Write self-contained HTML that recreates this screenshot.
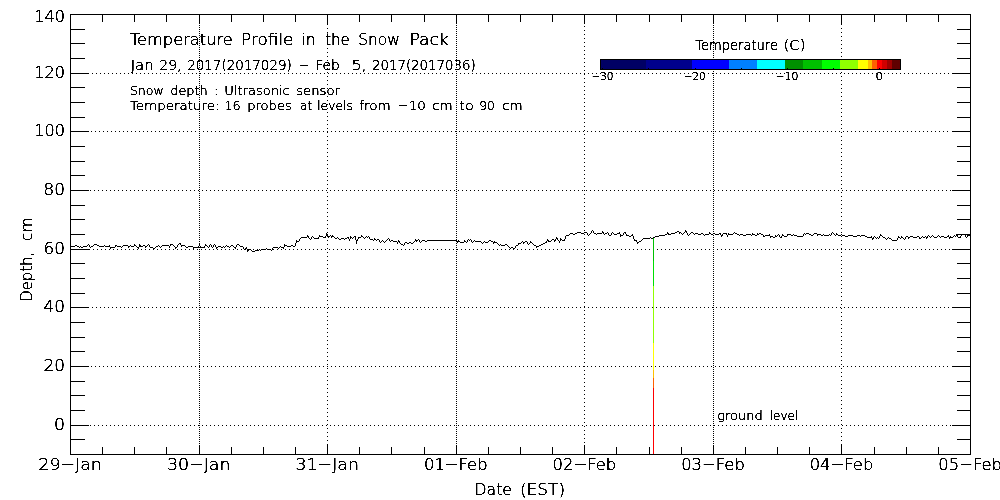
<!DOCTYPE html>
<html><head><meta charset="utf-8"><title>Temperature Profile in the Snow Pack</title>
<style>html,body{margin:0;padding:0;background:#fff;overflow:hidden}svg{display:block}
text{font-family:"DejaVu Sans Light","DejaVu Sans","Liberation Sans",sans-serif;font-weight:200;fill:#000;stroke:#000;stroke-width:0.2px}
.tx{filter:url(#crisp)}
</style></head><body>
<svg width="1000" height="500" viewBox="0 0 1000 500">
<defs><filter id="crisp" x="0" y="0" width="1000" height="500" filterUnits="userSpaceOnUse" color-interpolation-filters="sRGB"><feComponentTransfer><feFuncA type="linear" slope="5" intercept="-1.35"/></feComponentTransfer></filter></defs>
<rect x="0" y="0" width="1000" height="500" fill="#fff"/>
<g shape-rendering="crispEdges" stroke="#000" stroke-width="1" fill="none">
<line x1="90" y1="425.5" x2="951" y2="425.5" stroke-dasharray="1 3"/>
<line x1="91" y1="366.5" x2="951" y2="366.5" stroke-dasharray="1 3"/>
<line x1="92" y1="307.5" x2="951" y2="307.5" stroke-dasharray="1 3"/>
<line x1="89" y1="249.5" x2="951" y2="249.5" stroke-dasharray="1 3"/>
<line x1="90" y1="190.5" x2="951" y2="190.5" stroke-dasharray="1 3"/>
<line x1="91" y1="131.5" x2="951" y2="131.5" stroke-dasharray="1 3"/>
<line x1="92" y1="73.5" x2="951" y2="73.5" stroke-dasharray="1 3"/>
<line x1="199.5" y1="25" x2="199.5" y2="445" stroke-dasharray="1 1"/>
<line x1="327.5" y1="24" x2="327.5" y2="445" stroke-dasharray="1 3"/>
<line x1="456.5" y1="25" x2="456.5" y2="445" stroke-dasharray="1 1"/>
<line x1="584.5" y1="26" x2="584.5" y2="445" stroke-dasharray="1 3"/>
<line x1="713.5" y1="25" x2="713.5" y2="445" stroke-dasharray="1 1"/>
<line x1="841.5" y1="24" x2="841.5" y2="445" stroke-dasharray="1 3"/>
</g>
<g shape-rendering="crispEdges">
<rect x="600" y="59" width="46" height="10" fill="#000064"/>
<rect x="646" y="59" width="46" height="10" fill="#00008c"/>
<rect x="692" y="59" width="37" height="10" fill="#0000ff"/>
<rect x="729" y="59" width="28" height="10" fill="#0080ff"/>
<rect x="757" y="59" width="28" height="10" fill="#00ffff"/>
<rect x="785" y="59" width="18" height="10" fill="#009000"/>
<rect x="803" y="59" width="19" height="10" fill="#00c000"/>
<rect x="822" y="59" width="18" height="10" fill="#00ff00"/>
<rect x="840" y="59" width="18" height="10" fill="#90ff00"/>
<rect x="858" y="59" width="10" height="10" fill="#ffff00"/>
<rect x="868" y="59" width="4" height="10" fill="#ffc000"/>
<rect x="872" y="59" width="5" height="10" fill="#ff6000"/>
<rect x="877" y="59" width="5" height="10" fill="#ff0000"/>
<rect x="882" y="59" width="5" height="10" fill="#d00000"/>
<rect x="887" y="59" width="5" height="10" fill="#a00000"/>
<rect x="892" y="59" width="8" height="10" fill="#600000"/>
<rect x="600.5" y="59.5" width="300" height="10" fill="none" stroke="#000" stroke-width="1"/>
<rect x="602" y="68" width="1" height="1" fill="#000"/>
<rect x="648" y="68" width="1" height="1" fill="#000"/>
<rect x="695" y="68" width="1" height="1" fill="#000"/>
<rect x="741" y="68" width="1" height="1" fill="#000"/>
<rect x="787" y="68" width="1" height="1" fill="#000"/>
<rect x="833" y="68" width="1" height="1" fill="#000"/>
<rect x="879" y="68" width="1" height="1" fill="#000"/>
</g>
<g shape-rendering="crispEdges">
<rect x="653" y="237" width="1" height="24" fill="#00c000"/>
<rect x="653" y="261" width="1" height="25" fill="#00e000"/>
<rect x="653" y="286" width="1" height="57" fill="#90ff00"/>
<rect x="653" y="343" width="1" height="27" fill="#ffff00"/>
<rect x="653" y="370" width="1" height="8" fill="#ffc000"/>
<rect x="653" y="378" width="1" height="10" fill="#ff6000"/>
<rect x="653" y="388" width="1" height="66" fill="#ff0000"/>
</g>
<path d="M70.5 245V246M71.5 246V247M72.5 246V247M73.5 246V247M74.5 246V247M75.5 245V246M76.5 245V246M77.5 246V247M78.5 246V247M79.5 247V248M80.5 246V247M81.5 247V248M82.5 247V248M83.5 246V247M84.5 246V247M85.5 246V247M86.5 246V247M87.5 245V246M88.5 244V245M89.5 245V247M90.5 247V248M91.5 246V247M92.5 246V247M93.5 245V246M94.5 244V245M95.5 244V245M96.5 244V245M97.5 245V246M98.5 245V246M99.5 246V247M100.5 246V247M101.5 246V247M102.5 246V247M103.5 246V247M104.5 245V246M105.5 246V247M106.5 246V247M107.5 246V247M108.5 246V247M109.5 245V247M110.5 247V249M111.5 247V248M112.5 247V248M113.5 247V248M114.5 247V248M115.5 245V247M116.5 245V246M117.5 246V247M118.5 246V247M119.5 246V247M120.5 246V247M121.5 247V248M122.5 246V247M123.5 245V246M124.5 245V246M125.5 245V246M126.5 245V246M127.5 245V246M128.5 246V248M129.5 246V247M130.5 245V246M131.5 246V247M132.5 246V247M133.5 246V247M134.5 244V246M135.5 245V246M136.5 246V247M137.5 247V248M138.5 247V249M139.5 244V247M140.5 245V247M141.5 246V247M142.5 246V247M143.5 245V246M144.5 245V246M145.5 246V248M146.5 246V247M147.5 245V246M148.5 244V245M149.5 245V247M150.5 247V248M151.5 247V248M152.5 247V248M153.5 248V249M154.5 248V249M155.5 247V248M156.5 246V247M157.5 246V247M158.5 245V246M159.5 246V247M160.5 247V248M161.5 246V247M162.5 245V246M163.5 245V246M164.5 245V246M165.5 245V246M166.5 245V246M167.5 245V246M168.5 245V246M169.5 246V248M170.5 244V246M171.5 244V245M172.5 244V245M173.5 245V246M174.5 246V247M175.5 247V249M176.5 247V248M177.5 245V247M178.5 244V245M179.5 243V244M180.5 243V245M181.5 245V247M182.5 245V246M183.5 245V246M184.5 245V246M185.5 246V247M186.5 247V248M187.5 247V248M188.5 246V247M189.5 246V247M190.5 246V247M191.5 246V247M192.5 246V247M193.5 247V249M194.5 247V248M195.5 247V248M196.5 247V248M197.5 247V248M198.5 246V248M199.5 244V246M200.5 246V248M201.5 247V248M202.5 247V248M203.5 247V248M204.5 246V248M205.5 244V246M206.5 245V246M207.5 246V247M208.5 247V248M209.5 245V247M210.5 244V245M211.5 245V247M212.5 247V248M213.5 245V247M214.5 244V245M215.5 245V247M216.5 247V249M217.5 247V248M218.5 246V247M219.5 246V247M220.5 246V247M221.5 247V248M222.5 247V248M223.5 246V247M224.5 247V248M225.5 246V247M226.5 245V246M227.5 246V247M228.5 246V247M229.5 247V248M230.5 246V247M231.5 245V246M232.5 245V246M233.5 246V247M234.5 247V248M235.5 247V249M236.5 245V247M237.5 244V245M238.5 244V245M239.5 245V246M240.5 246V247M241.5 246V247M242.5 246V247M243.5 247V249M244.5 249V250M245.5 248V249M246.5 247V249M247.5 249V252M248.5 249V251M249.5 249V250M250.5 249V250M251.5 250V251M252.5 251V252M253.5 251V252M254.5 251V252M255.5 250V251M256.5 250V251M257.5 250V251M258.5 250V251M259.5 249V250M260.5 250V251M261.5 249V250M262.5 249V250M263.5 249V250M264.5 249V250M265.5 249V250M266.5 248V249M267.5 249V250M268.5 249V250M269.5 249V250M270.5 249V250M271.5 250V251M272.5 248V250M273.5 247V248M274.5 247V248M275.5 247V248M276.5 247V248M277.5 247V248M278.5 248V249M279.5 247V248M280.5 246V247M281.5 247V248M282.5 247V248M283.5 247V249M284.5 244V247M285.5 245V246M286.5 245V246M287.5 246V247M288.5 246V247M289.5 246V247M290.5 246V247M291.5 245V246M292.5 245V246M293.5 246V247M294.5 246V247M295.5 243V246M296.5 240V243M297.5 241V242M298.5 241V242M299.5 239V241M300.5 238V239M301.5 237V238M302.5 237V238M303.5 237V238M304.5 237V238M305.5 237V238M306.5 237V238M307.5 235V237M308.5 236V238M309.5 238V239M310.5 239V240M311.5 237V239M312.5 236V237M313.5 237V238M314.5 238V239M315.5 238V239M316.5 238V239M317.5 238V239M318.5 237V239M319.5 235V237M320.5 236V237M321.5 236V237M322.5 236V237M323.5 237V238M324.5 237V238M325.5 236V238M326.5 233V236M327.5 234V236M328.5 236V238M329.5 236V237M330.5 235V236M331.5 236V238M332.5 235V237M333.5 236V237M334.5 237V238M335.5 238V239M336.5 238V239M337.5 237V238M338.5 238V239M339.5 239V240M340.5 239V240M341.5 238V239M342.5 238V239M343.5 238V239M344.5 239V240M345.5 238V239M346.5 238V239M347.5 237V238M348.5 237V239M349.5 239V241M350.5 236V239M351.5 237V238M352.5 238V239M353.5 237V238M354.5 236V237M355.5 236V240M356.5 240V244M357.5 239V241M358.5 237V239M359.5 237V238M360.5 237V238M361.5 235V237M362.5 236V237M363.5 237V238M364.5 238V239M365.5 237V238M366.5 236V237M367.5 237V238M368.5 236V237M369.5 237V239M370.5 239V240M371.5 239V240M372.5 239V240M373.5 240V241M374.5 238V240M375.5 239V240M376.5 240V241M377.5 239V240M378.5 239V240M379.5 240V242M380.5 242V243M381.5 241V242M382.5 240V241M383.5 241V242M384.5 242V243M385.5 241V242M386.5 240V241M387.5 239V240M388.5 238V239M389.5 239V241M390.5 241V242M391.5 240V241M392.5 240V241M393.5 241V242M394.5 241V242M395.5 241V242M396.5 241V242M397.5 242V244M398.5 240V242M399.5 241V243M400.5 243V244M401.5 244V245M402.5 244V245M403.5 245V246M404.5 243V245M405.5 242V243M406.5 242V243M407.5 243V244M408.5 243V244M409.5 242V243M410.5 242V243M411.5 243V244M412.5 243V244M413.5 242V243M414.5 241V242M415.5 239V241M416.5 240V242M417.5 240V241M418.5 239V240M419.5 240V242M420.5 242V243M421.5 241V242M422.5 240V241M423.5 240V241M424.5 240V241M425.5 241V242M426.5 241V242M427.5 240V241M428.5 240V241M429.5 240V241M430.5 240V241M431.5 240V241M432.5 240V241M433.5 240V241M434.5 240V241M435.5 240V241M436.5 240V241M437.5 240V241M438.5 240V241M439.5 240V241M440.5 240V241M441.5 240V241M442.5 240V241M443.5 240V241M444.5 240V241M445.5 240V241M446.5 240V241M447.5 240V241M448.5 240V241M449.5 240V241M450.5 240V241M451.5 240V241M452.5 240V241M453.5 240V241M454.5 240V241M455.5 240V241M456.5 240V241M457.5 241V243M458.5 240V242M459.5 241V242M460.5 242V243M461.5 242V243M462.5 242V243M463.5 242V243M464.5 240V242M465.5 241V242M466.5 242V243M467.5 240V242M468.5 239V240M469.5 240V241M470.5 239V240M471.5 240V242M472.5 242V243M473.5 241V242M474.5 240V241M475.5 241V242M476.5 241V242M477.5 241V242M478.5 241V242M479.5 241V242M480.5 241V242M481.5 242V243M482.5 243V244M483.5 242V243M484.5 241V242M485.5 242V243M486.5 242V243M487.5 242V243M488.5 241V242M489.5 240V241M490.5 240V241M491.5 241V242M492.5 241V242M493.5 242V244M494.5 241V243M495.5 242V243M496.5 242V243M497.5 243V244M498.5 244V245M499.5 245V246M500.5 244V245M501.5 245V246M502.5 245V246M503.5 245V246M504.5 245V246M505.5 244V245M506.5 244V245M507.5 245V246M508.5 246V247M509.5 247V248M510.5 248V249M511.5 247V248M512.5 247V248M513.5 248V249M514.5 248V249M515.5 246V248M516.5 245V246M517.5 245V246M518.5 243V245M519.5 243V244M520.5 243V244M521.5 242V243M522.5 241V242M523.5 242V244M524.5 242V243M525.5 241V242M526.5 241V242M527.5 242V244M528.5 244V245M529.5 243V244M530.5 241V243M531.5 242V243M532.5 243V244M533.5 244V245M534.5 245V246M535.5 245V246M536.5 246V248M537.5 246V247M538.5 246V247M539.5 245V246M540.5 245V246M541.5 244V245M542.5 244V245M543.5 243V244M544.5 243V244M545.5 242V243M546.5 241V243M547.5 239V241M548.5 240V242M549.5 241V242M550.5 241V242M551.5 240V241M552.5 239V240M553.5 239V240M554.5 240V242M555.5 239V241M556.5 237V239M557.5 238V240M558.5 240V241M559.5 241V243M560.5 238V241M561.5 239V240M562.5 240V241M563.5 240V241M564.5 239V241M565.5 236V239M566.5 235V236M567.5 235V236M568.5 235V236M569.5 234V235M570.5 233V234M571.5 233V234M572.5 233V234M573.5 234V235M574.5 234V235M575.5 233V234M576.5 233V234M577.5 232V233M578.5 232V233M579.5 232V233M580.5 232V233M581.5 233V234M582.5 233V234M583.5 233V234M584.5 232V233M585.5 232V233M586.5 232V233M587.5 233V235M588.5 235V236M589.5 234V235M590.5 233V234M591.5 231V233M592.5 230V231M593.5 231V233M594.5 233V234M595.5 233V234M596.5 234V235M597.5 233V234M598.5 233V234M599.5 233V234M600.5 233V234M601.5 233V234M602.5 231V233M603.5 232V234M604.5 234V235M605.5 233V234M606.5 233V234M607.5 232V233M608.5 233V235M609.5 235V236M610.5 235V236M611.5 233V235M612.5 232V233M613.5 233V234M614.5 234V235M615.5 234V235M616.5 234V235M617.5 233V234M618.5 233V234M619.5 232V234M620.5 234V237M621.5 235V236M622.5 235V236M623.5 233V235M624.5 232V233M625.5 232V234M626.5 234V236M627.5 235V236M628.5 235V236M629.5 236V237M630.5 236V237M631.5 235V236M632.5 234V236M633.5 236V239M634.5 239V241M635.5 240V241M636.5 240V242M637.5 242V244M638.5 242V243M639.5 241V242M640.5 241V242M641.5 240V241M642.5 239V240M643.5 238V239M644.5 238V239M645.5 238V239M646.5 238V239M647.5 238V239M648.5 238V239M649.5 238V239M650.5 237V238M651.5 238V239M652.5 238V239M653.5 237V238M654.5 237V238M655.5 236V237M656.5 236V237M657.5 236V237M658.5 236V237M659.5 235V236M660.5 235V236M661.5 235V236M662.5 235V236M663.5 235V236M664.5 235V236M665.5 234V235M666.5 234V235M667.5 232V234M668.5 233V235M669.5 234V235M670.5 234V235M671.5 233V234M672.5 233V234M673.5 233V234M674.5 233V234M675.5 232V233M676.5 232V233M677.5 231V232M678.5 231V232M679.5 232V234M680.5 232V233M681.5 233V234M682.5 234V235M683.5 233V234M684.5 232V233M685.5 230V232M686.5 231V233M687.5 233V235M688.5 235V236M689.5 234V235M690.5 233V234M691.5 232V233M692.5 232V233M693.5 233V234M694.5 234V235M695.5 233V234M696.5 233V234M697.5 233V234M698.5 234V235M699.5 234V235M700.5 234V235M701.5 233V234M702.5 233V234M703.5 234V235M704.5 235V236M705.5 234V235M706.5 234V235M707.5 234V235M708.5 234V235M709.5 232V234M710.5 233V234M711.5 234V235M712.5 234V235M713.5 233V234M714.5 233V234M715.5 234V235M716.5 234V235M717.5 234V235M718.5 234V235M719.5 233V234M720.5 233V235M721.5 235V237M722.5 234V236M723.5 233V234M724.5 233V234M725.5 233V234M726.5 233V235M727.5 235V237M728.5 233V235M729.5 234V235M730.5 234V235M731.5 234V235M732.5 234V235M733.5 233V234M734.5 232V233M735.5 233V234M736.5 233V234M737.5 234V235M738.5 234V235M739.5 235V236M740.5 234V235M741.5 234V235M742.5 234V235M743.5 235V236M744.5 235V236M745.5 235V236M746.5 234V235M747.5 234V235M748.5 234V235M749.5 234V235M750.5 234V235M751.5 235V236M752.5 233V235M753.5 234V235M754.5 234V235M755.5 235V236M756.5 235V236M757.5 233V235M758.5 234V235M759.5 233V234M760.5 233V234M761.5 234V235M762.5 234V235M763.5 235V237M764.5 236V237M765.5 235V236M766.5 235V236M767.5 235V236M768.5 235V236M769.5 234V236M770.5 236V238M771.5 236V237M772.5 236V237M773.5 237V238M774.5 237V238M775.5 235V237M776.5 236V237M777.5 235V236M778.5 234V235M779.5 235V237M780.5 237V238M781.5 236V238M782.5 234V236M783.5 235V236M784.5 236V237M785.5 236V237M786.5 236V237M787.5 234V236M788.5 234V235M789.5 234V235M790.5 234V235M791.5 235V236M792.5 235V236M793.5 234V235M794.5 235V236M795.5 235V236M796.5 235V236M797.5 236V237M798.5 236V237M799.5 236V237M800.5 236V237M801.5 236V237M802.5 236V237M803.5 234V236M804.5 233V234M805.5 234V235M806.5 233V234M807.5 233V234M808.5 233V234M809.5 234V235M810.5 234V235M811.5 235V236M812.5 235V236M813.5 234V235M814.5 233V234M815.5 233V234M816.5 233V234M817.5 234V236M818.5 234V235M819.5 234V235M820.5 234V235M821.5 235V236M822.5 235V236M823.5 234V235M824.5 235V236M825.5 235V236M826.5 235V236M827.5 235V236M828.5 235V236M829.5 234V235M830.5 235V236M831.5 233V235M832.5 232V233M833.5 233V234M834.5 234V235M835.5 235V236M836.5 233V235M837.5 234V235M838.5 235V236M839.5 235V236M840.5 235V236M841.5 234V235M842.5 235V236M843.5 235V236M844.5 235V236M845.5 236V237M846.5 236V237M847.5 236V237M848.5 235V236M849.5 235V236M850.5 235V236M851.5 235V236M852.5 235V236M853.5 236V237M854.5 236V237M855.5 236V237M856.5 236V237M857.5 235V236M858.5 235V236M859.5 235V236M860.5 236V237M861.5 235V236M862.5 235V236M863.5 235V236M864.5 235V236M865.5 236V237M866.5 236V237M867.5 237V238M868.5 237V238M869.5 237V238M870.5 237V238M871.5 236V238M872.5 238V240M873.5 237V239M874.5 236V237M875.5 237V238M876.5 238V239M877.5 237V238M878.5 238V239M879.5 236V238M880.5 234V236M881.5 235V236M882.5 236V237M883.5 237V238M884.5 237V238M885.5 238V239M886.5 239V240M887.5 238V239M888.5 237V238M889.5 238V239M890.5 238V239M891.5 239V240M892.5 240V241M893.5 240V241M894.5 240V241M895.5 240V241M896.5 240V241M897.5 238V240M898.5 236V238M899.5 237V238M900.5 238V239M901.5 236V238M902.5 237V238M903.5 238V239M904.5 239V240M905.5 237V239M906.5 236V237M907.5 236V237M908.5 237V239M909.5 237V238M910.5 236V237M911.5 236V237M912.5 236V237M913.5 237V238M914.5 237V238M915.5 237V238M916.5 237V238M917.5 236V237M918.5 236V237M919.5 237V239M920.5 238V239M921.5 237V238M922.5 236V237M923.5 237V238M924.5 237V238M925.5 236V237M926.5 237V239M927.5 236V238M928.5 235V236M929.5 236V237M930.5 237V238M931.5 236V237M932.5 235V236M933.5 236V237M934.5 237V238M935.5 237V238M936.5 237V238M937.5 236V237M938.5 235V236M939.5 236V237M940.5 237V238M941.5 236V237M942.5 236V237M943.5 236V237M944.5 237V238M945.5 237V238M946.5 237V238M947.5 236V237M948.5 235V237M949.5 237V239M950.5 236V238M951.5 237V238M952.5 237V238M953.5 236V237M954.5 235V236M955.5 236V237M956.5 234V236M957.5 235V237M958.5 237V238M959.5 237V238M960.5 236V238M961.5 234V236M962.5 234V235M963.5 234V235M964.5 234V235M965.5 235V237M966.5 237V238M967.5 235V237M968.5 235V236M969.5 235V236M970.5 235V236" fill="none" stroke="#000" stroke-width="1" shape-rendering="crispEdges"/>
<g shape-rendering="crispEdges" stroke="#000" stroke-width="1" fill="none">
<rect x="70.5" y="14.5" width="900" height="440"/>
<line x1="70.5" y1="454" x2="70.5" y2="445"/>
<line x1="70.5" y1="14" x2="70.5" y2="24"/>
<line x1="102.5" y1="454" x2="102.5" y2="447"/>
<line x1="102.5" y1="14" x2="102.5" y2="22"/>
<line x1="134.5" y1="454" x2="134.5" y2="447"/>
<line x1="134.5" y1="14" x2="134.5" y2="22"/>
<line x1="166.5" y1="454" x2="166.5" y2="447"/>
<line x1="166.5" y1="14" x2="166.5" y2="22"/>
<line x1="199.5" y1="454" x2="199.5" y2="445"/>
<line x1="199.5" y1="14" x2="199.5" y2="24"/>
<line x1="231.5" y1="454" x2="231.5" y2="447"/>
<line x1="231.5" y1="14" x2="231.5" y2="22"/>
<line x1="263.5" y1="454" x2="263.5" y2="447"/>
<line x1="263.5" y1="14" x2="263.5" y2="22"/>
<line x1="295.5" y1="454" x2="295.5" y2="447"/>
<line x1="295.5" y1="14" x2="295.5" y2="22"/>
<line x1="327.5" y1="454" x2="327.5" y2="445"/>
<line x1="327.5" y1="14" x2="327.5" y2="24"/>
<line x1="359.5" y1="454" x2="359.5" y2="447"/>
<line x1="359.5" y1="14" x2="359.5" y2="22"/>
<line x1="391.5" y1="454" x2="391.5" y2="447"/>
<line x1="391.5" y1="14" x2="391.5" y2="22"/>
<line x1="424.5" y1="454" x2="424.5" y2="447"/>
<line x1="424.5" y1="14" x2="424.5" y2="22"/>
<line x1="456.5" y1="454" x2="456.5" y2="445"/>
<line x1="456.5" y1="14" x2="456.5" y2="24"/>
<line x1="488.5" y1="454" x2="488.5" y2="447"/>
<line x1="488.5" y1="14" x2="488.5" y2="22"/>
<line x1="520.5" y1="454" x2="520.5" y2="447"/>
<line x1="520.5" y1="14" x2="520.5" y2="22"/>
<line x1="552.5" y1="454" x2="552.5" y2="447"/>
<line x1="552.5" y1="14" x2="552.5" y2="22"/>
<line x1="584.5" y1="454" x2="584.5" y2="445"/>
<line x1="584.5" y1="14" x2="584.5" y2="24"/>
<line x1="616.5" y1="454" x2="616.5" y2="447"/>
<line x1="616.5" y1="14" x2="616.5" y2="22"/>
<line x1="649.5" y1="454" x2="649.5" y2="447"/>
<line x1="649.5" y1="14" x2="649.5" y2="22"/>
<line x1="681.5" y1="454" x2="681.5" y2="447"/>
<line x1="681.5" y1="14" x2="681.5" y2="22"/>
<line x1="713.5" y1="454" x2="713.5" y2="445"/>
<line x1="713.5" y1="14" x2="713.5" y2="24"/>
<line x1="745.5" y1="454" x2="745.5" y2="447"/>
<line x1="745.5" y1="14" x2="745.5" y2="22"/>
<line x1="777.5" y1="454" x2="777.5" y2="447"/>
<line x1="777.5" y1="14" x2="777.5" y2="22"/>
<line x1="809.5" y1="454" x2="809.5" y2="447"/>
<line x1="809.5" y1="14" x2="809.5" y2="22"/>
<line x1="841.5" y1="454" x2="841.5" y2="445"/>
<line x1="841.5" y1="14" x2="841.5" y2="24"/>
<line x1="874.5" y1="454" x2="874.5" y2="447"/>
<line x1="874.5" y1="14" x2="874.5" y2="22"/>
<line x1="906.5" y1="454" x2="906.5" y2="447"/>
<line x1="906.5" y1="14" x2="906.5" y2="22"/>
<line x1="938.5" y1="454" x2="938.5" y2="447"/>
<line x1="938.5" y1="14" x2="938.5" y2="22"/>
<line x1="970.5" y1="454" x2="970.5" y2="445"/>
<line x1="970.5" y1="14" x2="970.5" y2="24"/>
<line x1="70" y1="454.5" x2="85" y2="454.5"/>
<line x1="970" y1="454.5" x2="957" y2="454.5"/>
<line x1="70" y1="439.5" x2="85" y2="439.5"/>
<line x1="970" y1="439.5" x2="957" y2="439.5"/>
<line x1="70" y1="425.5" x2="89" y2="425.5"/>
<line x1="970" y1="425.5" x2="952" y2="425.5"/>
<line x1="70" y1="410.5" x2="85" y2="410.5"/>
<line x1="970" y1="410.5" x2="957" y2="410.5"/>
<line x1="70" y1="395.5" x2="85" y2="395.5"/>
<line x1="970" y1="395.5" x2="957" y2="395.5"/>
<line x1="70" y1="381.5" x2="85" y2="381.5"/>
<line x1="970" y1="381.5" x2="957" y2="381.5"/>
<line x1="70" y1="366.5" x2="89" y2="366.5"/>
<line x1="970" y1="366.5" x2="952" y2="366.5"/>
<line x1="70" y1="351.5" x2="85" y2="351.5"/>
<line x1="970" y1="351.5" x2="957" y2="351.5"/>
<line x1="70" y1="337.5" x2="85" y2="337.5"/>
<line x1="970" y1="337.5" x2="957" y2="337.5"/>
<line x1="70" y1="322.5" x2="85" y2="322.5"/>
<line x1="970" y1="322.5" x2="957" y2="322.5"/>
<line x1="70" y1="307.5" x2="89" y2="307.5"/>
<line x1="970" y1="307.5" x2="952" y2="307.5"/>
<line x1="70" y1="293.5" x2="85" y2="293.5"/>
<line x1="970" y1="293.5" x2="957" y2="293.5"/>
<line x1="70" y1="278.5" x2="85" y2="278.5"/>
<line x1="970" y1="278.5" x2="957" y2="278.5"/>
<line x1="70" y1="263.5" x2="85" y2="263.5"/>
<line x1="970" y1="263.5" x2="957" y2="263.5"/>
<line x1="70" y1="249.5" x2="89" y2="249.5"/>
<line x1="970" y1="249.5" x2="952" y2="249.5"/>
<line x1="70" y1="234.5" x2="85" y2="234.5"/>
<line x1="970" y1="234.5" x2="957" y2="234.5"/>
<line x1="70" y1="219.5" x2="85" y2="219.5"/>
<line x1="970" y1="219.5" x2="957" y2="219.5"/>
<line x1="70" y1="205.5" x2="85" y2="205.5"/>
<line x1="970" y1="205.5" x2="957" y2="205.5"/>
<line x1="70" y1="190.5" x2="89" y2="190.5"/>
<line x1="970" y1="190.5" x2="952" y2="190.5"/>
<line x1="70" y1="175.5" x2="85" y2="175.5"/>
<line x1="970" y1="175.5" x2="957" y2="175.5"/>
<line x1="70" y1="161.5" x2="85" y2="161.5"/>
<line x1="970" y1="161.5" x2="957" y2="161.5"/>
<line x1="70" y1="146.5" x2="85" y2="146.5"/>
<line x1="970" y1="146.5" x2="957" y2="146.5"/>
<line x1="70" y1="131.5" x2="89" y2="131.5"/>
<line x1="970" y1="131.5" x2="952" y2="131.5"/>
<line x1="70" y1="117.5" x2="85" y2="117.5"/>
<line x1="970" y1="117.5" x2="957" y2="117.5"/>
<line x1="70" y1="102.5" x2="85" y2="102.5"/>
<line x1="970" y1="102.5" x2="957" y2="102.5"/>
<line x1="70" y1="87.5" x2="85" y2="87.5"/>
<line x1="970" y1="87.5" x2="957" y2="87.5"/>
<line x1="70" y1="73.5" x2="89" y2="73.5"/>
<line x1="970" y1="73.5" x2="952" y2="73.5"/>
<line x1="70" y1="58.5" x2="85" y2="58.5"/>
<line x1="970" y1="58.5" x2="957" y2="58.5"/>
<line x1="70" y1="43.5" x2="85" y2="43.5"/>
<line x1="970" y1="43.5" x2="957" y2="43.5"/>
<line x1="70" y1="29.5" x2="85" y2="29.5"/>
<line x1="970" y1="29.5" x2="957" y2="29.5"/>
<line x1="70" y1="14.5" x2="89" y2="14.5"/>
<line x1="970" y1="14.5" x2="952" y2="14.5"/>
</g>
<g class="tx">
<text x="54.0" y="429.5" font-size="16.4" text-anchor="start" textLength="11.0" lengthAdjust="spacingAndGlyphs">0</text>
<text x="43.6" y="370.8" font-size="16.4" text-anchor="start" textLength="21.4" lengthAdjust="spacingAndGlyphs">20</text>
<text x="43.6" y="312.1" font-size="16.4" text-anchor="start" textLength="21.4" lengthAdjust="spacingAndGlyphs">40</text>
<text x="43.6" y="253.5" font-size="16.4" text-anchor="start" textLength="21.4" lengthAdjust="spacingAndGlyphs">60</text>
<text x="43.6" y="194.8" font-size="16.4" text-anchor="start" textLength="21.4" lengthAdjust="spacingAndGlyphs">80</text>
<text x="34.3" y="136.1" font-size="16.4" text-anchor="start" textLength="30.7" lengthAdjust="spacingAndGlyphs">100</text>
<text x="34.3" y="77.5" font-size="16.4" text-anchor="start" textLength="30.7" lengthAdjust="spacingAndGlyphs">120</text>
<text x="34.3" y="22.0" font-size="16.4" text-anchor="start" textLength="30.7" lengthAdjust="spacingAndGlyphs">140</text>
<text x="38.3" y="470.2" font-size="16.4" text-anchor="start" textLength="63.6" lengthAdjust="spacingAndGlyphs">29−Jan</text>
<text x="166.9" y="470.2" font-size="16.4" text-anchor="start" textLength="63.6" lengthAdjust="spacingAndGlyphs">30−Jan</text>
<text x="295.4" y="470.2" font-size="16.4" text-anchor="start" textLength="63.6" lengthAdjust="spacingAndGlyphs">31−Jan</text>
<text x="424.0" y="470.2" font-size="16.4" text-anchor="start" textLength="63.6" lengthAdjust="spacingAndGlyphs">01−Feb</text>
<text x="552.6" y="470.2" font-size="16.4" text-anchor="start" textLength="63.6" lengthAdjust="spacingAndGlyphs">02−Feb</text>
<text x="681.2" y="470.2" font-size="16.4" text-anchor="start" textLength="63.6" lengthAdjust="spacingAndGlyphs">03−Feb</text>
<text x="809.7" y="470.2" font-size="16.4" text-anchor="start" textLength="63.6" lengthAdjust="spacingAndGlyphs">04−Feb</text>
<text x="938.3" y="470.2" font-size="16.4" text-anchor="start" textLength="63.6" lengthAdjust="spacingAndGlyphs">05−Feb</text>
<text y="494.7" font-size="16.4"><tspan x="474.5" textLength="37.4" lengthAdjust="spacingAndGlyphs">Date</tspan> <tspan x="520.0" textLength="45.1" lengthAdjust="spacingAndGlyphs">(EST)</tspan></text>
<text transform="translate(32.2,300.4) rotate(-90)" font-size="16.4"><tspan x="-1.4" textLength="50" lengthAdjust="spacingAndGlyphs">Depth,</tspan> <tspan x="59.4" textLength="23.4" lengthAdjust="spacingAndGlyphs">cm</tspan></text>
<text y="45" font-size="16.4"><tspan x="129.9" textLength="102.9" lengthAdjust="spacingAndGlyphs">Temperature</tspan> <tspan x="241.1" textLength="52.4" lengthAdjust="spacingAndGlyphs">Profile</tspan> <tspan x="301.4" textLength="14.2" lengthAdjust="spacingAndGlyphs">in</tspan> <tspan x="325.2" textLength="24.6" lengthAdjust="spacingAndGlyphs">the</tspan> <tspan x="358.2" textLength="41.6" lengthAdjust="spacingAndGlyphs">Snow</tspan> <tspan x="409.4" textLength="39.4" lengthAdjust="spacingAndGlyphs">Pack</tspan></text>
<text y="70" font-size="13.7"><tspan x="130.7" textLength="22.9" lengthAdjust="spacingAndGlyphs">Jan</tspan> <tspan x="159.2" textLength="22.4" lengthAdjust="spacingAndGlyphs">29,</tspan> <tspan x="187.2" textLength="104.6" lengthAdjust="spacingAndGlyphs">2017(2017029)</tspan> <tspan x="299.2" textLength="9.6" lengthAdjust="spacingAndGlyphs">−</tspan> <tspan x="315.4" textLength="24.4" lengthAdjust="spacingAndGlyphs">Feb</tspan> <tspan x="351.4" textLength="15.2" lengthAdjust="spacingAndGlyphs">5,</tspan> <tspan x="371.9" textLength="103.9" lengthAdjust="spacingAndGlyphs">2017(2017036)</tspan></text>
<text y="95" font-size="13"><tspan x="129.9" textLength="33.9" lengthAdjust="spacingAndGlyphs">Snow</tspan> <tspan x="170.2" textLength="37.6" lengthAdjust="spacingAndGlyphs">depth</tspan> <tspan x="214.1">:</tspan> <tspan x="224.2" textLength="65.6" lengthAdjust="spacingAndGlyphs">Ultrasonic</tspan> <tspan x="296.2" textLength="43.8" lengthAdjust="spacingAndGlyphs">sensor</tspan></text>
<text y="110" font-size="13"><tspan x="129.9" textLength="89.7" lengthAdjust="spacingAndGlyphs">Temperature:</tspan> <tspan x="224.4" textLength="16.4" lengthAdjust="spacingAndGlyphs">16</tspan> <tspan x="247.2" textLength="44.6" lengthAdjust="spacingAndGlyphs">probes</tspan> <tspan x="300.2" textLength="11.8" lengthAdjust="spacingAndGlyphs">at</tspan> <tspan x="317.2" textLength="35.6" lengthAdjust="spacingAndGlyphs">levels</tspan> <tspan x="359.2" textLength="31.6" lengthAdjust="spacingAndGlyphs">from</tspan> <tspan x="397.4" textLength="28.4" lengthAdjust="spacingAndGlyphs">−10</tspan> <tspan x="432.2" textLength="20.6" lengthAdjust="spacingAndGlyphs">cm</tspan> <tspan x="459.2" textLength="14.6" lengthAdjust="spacingAndGlyphs">to</tspan> <tspan x="479.2" textLength="15.6" lengthAdjust="spacingAndGlyphs">90</tspan> <tspan x="502.2" textLength="20.6" lengthAdjust="spacingAndGlyphs">cm</tspan></text>
<text y="419.6" font-size="13"><tspan x="717.2" textLength="45.6" lengthAdjust="spacingAndGlyphs">ground</tspan> <tspan x="769.7" textLength="28.5" lengthAdjust="spacingAndGlyphs">level</tspan></text>
<text y="50" font-size="13.2"><tspan x="695.2" textLength="82.8" lengthAdjust="spacingAndGlyphs">Temperature</tspan> <tspan x="783.5" textLength="22.0" lengthAdjust="spacingAndGlyphs">(C)</tspan></text>
<text x="591.5" y="80" font-size="11" text-anchor="start" textLength="21.9" lengthAdjust="spacingAndGlyphs">−30</text>
<text x="684" y="80" font-size="11" text-anchor="start" textLength="21.6" lengthAdjust="spacingAndGlyphs">−20</text>
<text x="775.4" y="80" font-size="11" text-anchor="start" textLength="22.9" lengthAdjust="spacingAndGlyphs">−10</text>
<text x="875.6" y="80" font-size="11" text-anchor="start" textLength="7.7" lengthAdjust="spacingAndGlyphs">0</text>
</g>
</svg></body></html>
